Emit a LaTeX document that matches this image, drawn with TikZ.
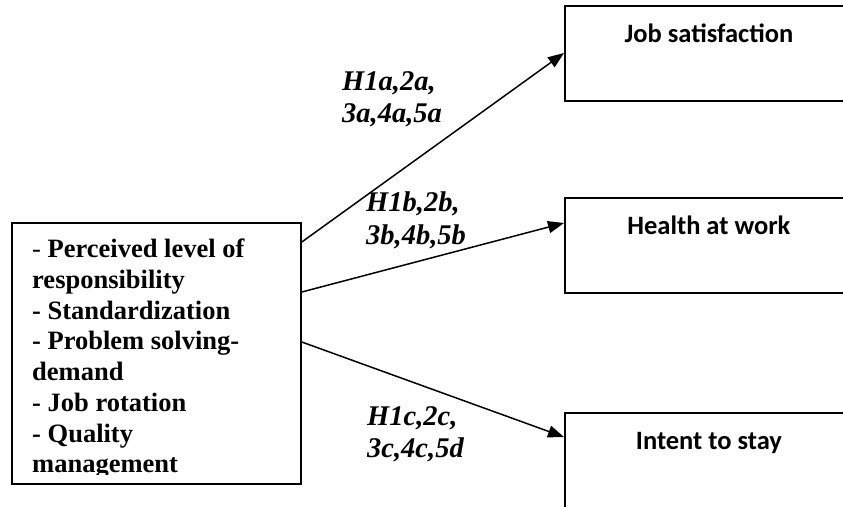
\documentclass[tikz,border=0pt]{standalone}
\usepackage{fontspec}
\setmainfont{Liberation Serif}
\newfontfamily\boxfont{Carlito}
\usetikzlibrary{arrows.meta}

\tikzset{
  srcbox/.style={draw, line width=1.8pt, inner sep=0pt, anchor=north west,
                 minimum width=289pt, minimum height=261pt},
  srctext/.style={anchor=north west, inner sep=0pt, align=left,
                  font=\bfseries\fontsize{26.5}{30.7}\selectfont},
  outbox/.style={draw, line width=1.8pt, inner sep=0pt, anchor=north west,
                 minimum width=288pt, minimum height=95pt,
                 text height=37pt, text depth=58pt,
                 font=\boxfont\bfseries\fontsize{26.5}{30}\selectfont},
  hyp/.style={anchor=north west, inner sep=0pt, align=left,
              font=\bfseries\itshape\fontsize{28.5}{32.5}\selectfont},
  hyparrow/.style={-{Triangle[length=16pt,width=12pt]}, line width=1.5pt}
}

\begin{document}
\begin{tikzpicture}[x=1pt,y=-1pt]
  \useasboundingbox (0,0) rectangle (843,506);
  \clip (0,0) rectangle (843,506);
  \node[srcbox]  (src)    at (11,222)  {};
  \begin{scope}
    \clip (11,222) rectangle (300,474);
    \node[srctext] (srctext) at (32,239)
      {{\mdseries -} Perceived level of\\responsibility\\- Standardization\\
       - Problem solving-\\demand\\- Job rotation\\- Quality\\management};
  \end{scope}
  \node[outbox]  (job)    at (564,5)   {Job satisfaction};
  \node[outbox]  (health) at (564,197) {Health at work};
  \node[outbox]  (stay)   at (564,412) {Intent to stay};
  \draw[hyparrow] ([yshift=-20pt]src.north east)  -- ([yshift=-48pt]job.north west);
  \draw[hyparrow] ([yshift=-70pt]src.north east)  -- ([yshift=-26pt]health.north west);
  \draw[hyparrow] ([yshift=-120pt]src.north east) -- ([yshift=-25pt]stay.north west);
  \node[hyp]     (hypa)   at (342,71)  {H1a,2a,\\3a,4a,5a};
  \node[hyp]     (hypb)   at (366,192) {H1b,2b,\\3b,4b,5b};
  \node[hyp]     (hypc)   at (367,406) {H1c,2c,\\3c,4c,5d};
\end{tikzpicture}
\end{document}
